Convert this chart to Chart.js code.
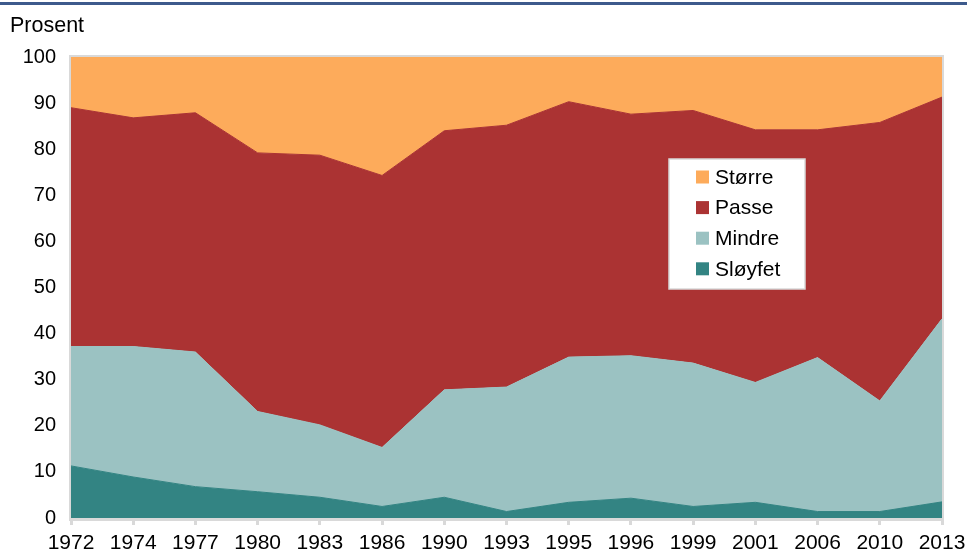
<!DOCTYPE html>
<html>

<head>
    <title>Prosent</title>
    <script src="https://cdn.jsdelivr.net/npm/chart.js"></script>
    <style>
        body { margin: 0; background: #fff; }
        #wrap { width: 967px; height: 554px; }
    </style>
</head>

<body>

    <div id="wrap">
        <canvas id="myChart" width="967" height="554"></canvas>
    </div>

    <script>

        const years = ['1972', '1974', '1977', '1980', '1983', '1986', '1990', '1993',
            '1995', '1996', '1999', '2001', '2006', '2010', '2013'];

        // andel i prosent, stablet nedenfra
        const sloyfet = [11.3, 8.9, 6.8, 5.7, 4.5, 2.5, 4.5, 1.4, 3.4, 4.3, 2.5, 3.4, 1.4, 1.4, 3.5];
        const mindre = [25.9, 28.3, 29.2, 17.4, 15.7, 12.8, 23.3, 27.0, 31.5, 30.9, 31.1, 26.0, 33.4, 24.0, 39.7];
        const passe = [51.8, 49.6, 51.9, 56.1, 58.5, 59.0, 56.2, 56.8, 55.4, 52.4, 54.8, 54.8, 49.4, 60.4, 48.1];
        const storre = [11.0, 13.2, 12.1, 20.8, 21.3, 25.7, 16.0, 14.8, 9.7, 12.4, 11.6, 15.8, 15.8, 14.2, 8.7];

        const yTicks = [0, 10, 20, 30, 40, 50, 60, 70, 80, 90, 100];

        const FONT = "'Liberation Sans', Arial, sans-serif";

        function area(label, values, color, fill) {
            return {
                label: label,
                data: values,
                backgroundColor: color,
                borderColor: color,
                borderWidth: 1,
                pointRadius: 0,
                fill: fill,
                tension: 0
            };
        }

        const data = {
            labels: years,
            datasets: [
                area('Sløyfet', sloyfet, '#338483', 'origin'),
                area('Mindre', mindre, '#9bc2c2', '-1'),
                area('Passe', passe, '#ab3333', '-1'),
                area('Større', storre, '#fdab5b', '-1')
            ]
        };

        // ramme, blå linje øverst, "Prosent" og legenden inne i plottet
        const decor = {
            id: 'decor',
            beforeDraw(chart) {
                const c = chart.ctx;
                c.save();
                c.fillStyle = '#3d5a8c';
                c.fillRect(0, 2, chart.width, 3);
                c.fillStyle = '#000';
                c.font = '21.5px ' + FONT;
                c.textBaseline = 'alphabetic';
                c.textAlign = 'left';
                c.fillText('Prosent', 10, 32);
                c.restore();
            },
            afterDraw(chart) {
                const a = chart.chartArea;
                const c = chart.ctx;
                c.save();
                c.strokeStyle = '#d9d9d9';
                c.lineWidth = 2;
                c.beginPath();
                c.moveTo(a.left - 1, a.bottom);
                c.lineTo(a.left - 1, a.top - 1);
                c.lineTo(a.right + 1, a.top - 1);
                c.lineTo(a.right + 1, a.bottom);
                c.stroke();

                // legende
                const bx = 669, by = 159, bw = 136, bh = 130;
                c.fillStyle = '#fff';
                c.fillRect(bx, by, bw, bh);
                c.strokeStyle = '#d9d9d9';
                c.lineWidth = 1.5;
                c.strokeRect(bx, by, bw, bh);
                c.font = '21px ' + FONT;
                c.textBaseline = 'middle';
                c.textAlign = 'left';
                const items = chart.data.datasets.slice().reverse();
                items.forEach((ds, i) => {
                    const cy = by + 18 + i * 30.6;
                    c.fillStyle = ds.backgroundColor;
                    c.fillRect(bx + 27, cy - 6.5, 13, 13);
                    c.fillStyle = '#000';
                    c.fillText(ds.label, bx + 46, cy + 1);
                });
                c.restore();
            }
        };

        const config = {
            type: 'line',
            data: data,
            options: {
                responsive: false,
                animation: false,
                layout: { padding: { left: 0, top: 57, right: 25, bottom: 0 } },
                plugins: {
                    legend: { display: false },
                    tooltip: { enabled: false }
                },
                scales: {
                    x: {
                        offset: false,
                        grid: {
                            drawOnChartArea: false,
                            drawTicks: true,
                            tickLength: 7,
                            color: '#d9d9d9',
                            lineWidth: 3
                        },
                        border: { display: true, color: '#d9d9d9', width: 5 },
                        ticks: {
                            color: '#000',
                            font: { family: FONT, size: 21 },
                            padding: 6,
                            maxRotation: 0,
                            autoSkip: false
                        },
                        afterFit(scale) {
                            scale.height = 36;
                            scale.paddingLeft = 0;
                            scale.paddingRight = 0;
                        }
                    },
                    y: {
                        stacked: true,
                        min: 0,
                        max: 100,
                        afterBuildTicks(scale) {
                            scale.ticks = yTicks.map(v => ({ value: v }));
                        },
                        grid: { display: false, drawTicks: false },
                        border: { display: false },
                        ticks: {
                            color: '#000',
                            font: { family: FONT, size: 20 },
                            padding: 15
                        },
                        afterFit(scale) {
                            scale.width = 71;
                            scale.paddingTop = 0;
                            scale.paddingBottom = 0;
                        }
                    }
                }
            },
            plugins: [decor]
        };

    </script>


    <script>
        const myChart = new Chart(
            document.getElementById('myChart'),
            config
        );
    </script>

</body>

</html>
